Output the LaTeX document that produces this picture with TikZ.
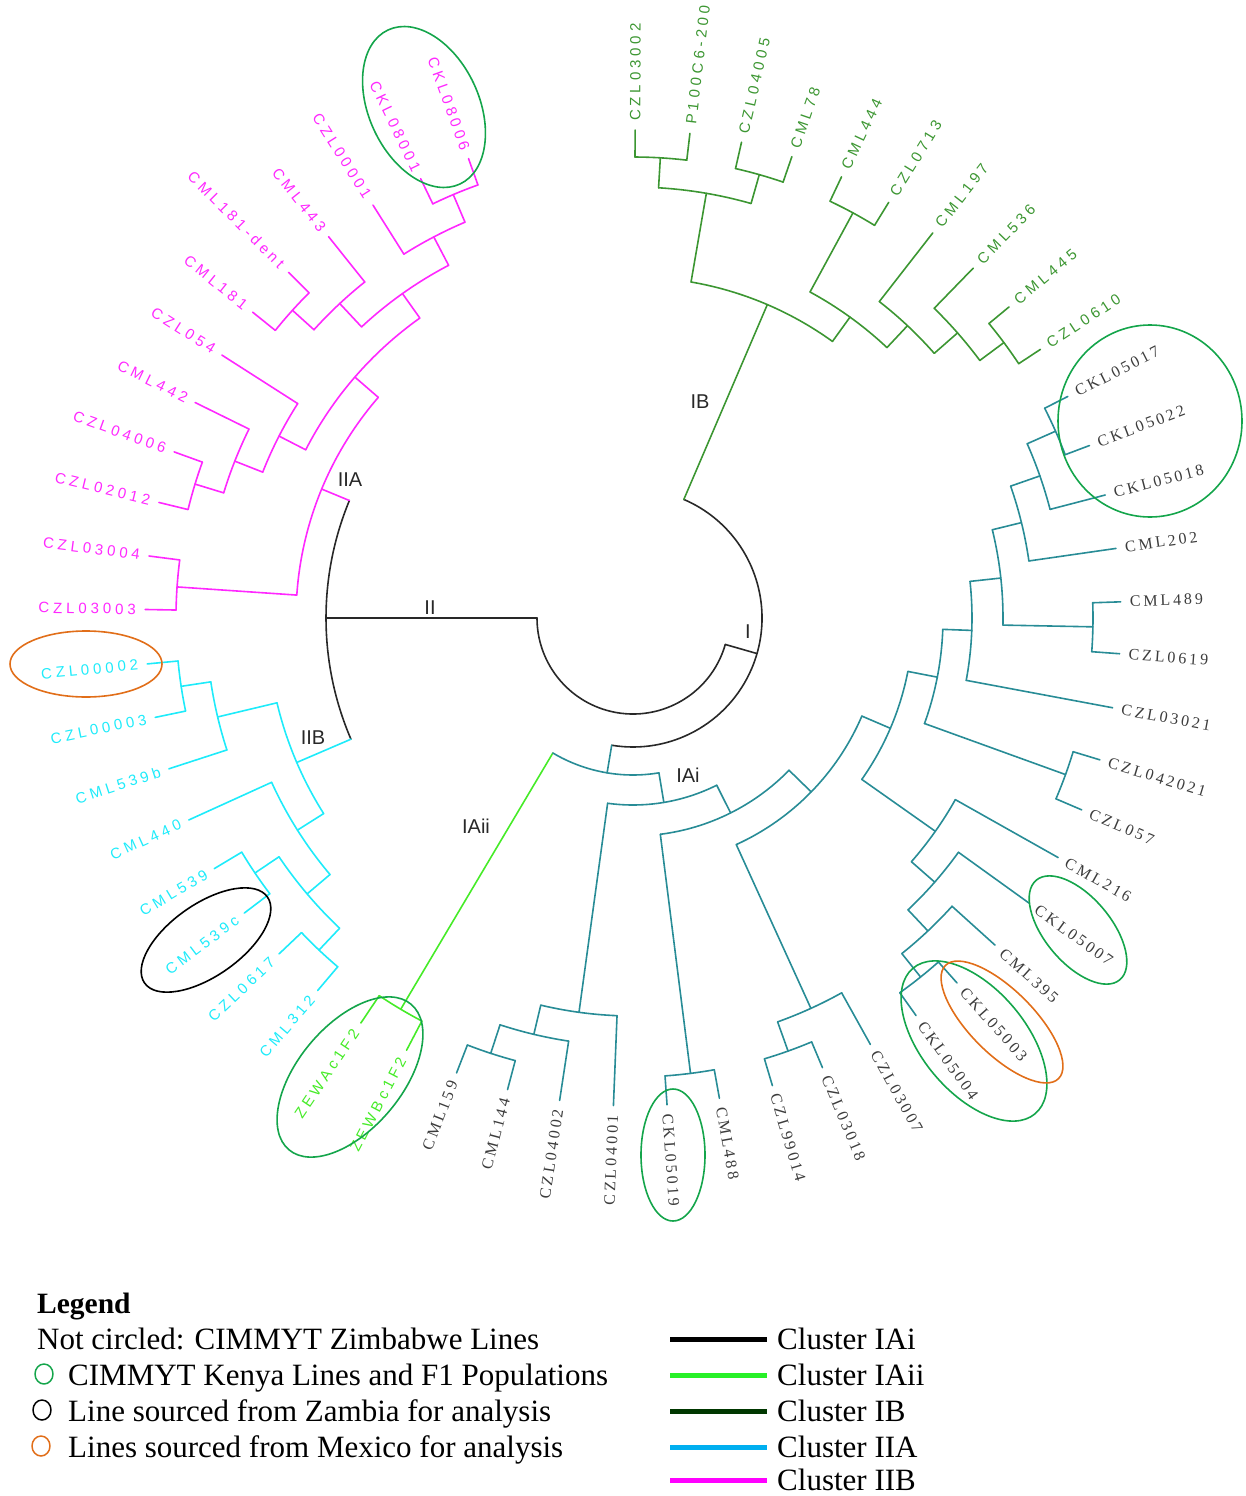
\documentclass[tikz,border=0pt]{standalone}
\usepackage{fontspec}
\setmainfont{Liberation Serif}
\newfontfamily\leafsans[LetterSpace=26]{Liberation Sans}
\newfontfamily\leafserif[LetterSpace=18]{Liberation Serif}
\newfontfamily\cladesans{Liberation Sans}

\definecolor{croot}{RGB}{40,40,40}
\definecolor{cIIA}{RGB}{255,40,255}
\definecolor{cIIB}{RGB}{30,235,250}
\definecolor{cIB}{RGB}{60,150,50}
\definecolor{cIAii}{RGB}{70,235,40}
\definecolor{cIAi}{RGB}{40,140,150}
\definecolor{cleaf}{RGB}{60,60,60}
\definecolor{ckenya}{RGB}{20,165,75}
\definecolor{cmexico}{RGB}{225,110,25}
\definecolor{legIAii}{RGB}{40,240,40}
\definecolor{legIB}{RGB}{0,55,0}
\definecolor{legIIA}{RGB}{0,175,240}
\definecolor{legIIB}{RGB}{255,0,255}

\begin{document}
\begin{tikzpicture}
[x=1pt,y=-1pt,line cap=round,line join=round,%
  branch/.style={line width=1.6pt,draw=#1},%
  leafR/.style={anchor=west,inner sep=0pt,rotate={0-(#1)}},%
  leafL/.style={anchor=east,inner sep=0pt,rotate={180-(#1)}},%
  sanslabel/.style={font=\leafsans\fontsize{15}{18}\selectfont,text=#1},%
  seriflabel/.style={font=\leafserif\fontsize{16}{19}\selectfont,text=cleaf},%
  cladelabel/.style={font=\cladesans\fontsize{20}{24}\selectfont,text=croot,inner sep=0pt},%
  ring/.style={line width=1.6pt,draw=#1},%
  legtext/.style={anchor=base west,inner sep=0pt,font=\fontsize{31}{36}\selectfont},%
  legbar/.style={line width=5pt,draw=#1,line cap=butt}]
\useasboundingbox (0,0) rectangle (1245,1496);

\begin{scope}[shift={(633,618)}]
%% root, I and II
\foreach \r/\a/\b in {96/16/180, 307/156.75/202.5, 129/-66.8/99.5}
  \draw[branch=croot] (\a:\r) arc[start angle=\a,end angle=\b,radius=\r];
\foreach \a/\r/\s in {180/96/307, 16/96/129}
  \draw[branch=croot] (\a:\r) -- (\a:\s);

%% cluster IIA
\foreach \a/\r/\s in {-157.5/307/337, -176.1/337/457, -139.1/337/368,
  -152.8/368/398, -158.5/398/428, -163.0/428/458, -125.4/368/398,
  -133.0/398/430, -137.9/430/459, -117.6/398/430, -113.0/430/460}
  \draw[branch=cIIA] (\a:\r) -- (\a:\s);
\foreach \r/\a/\b in {337/-176.1/-139.1, 457/-179.0/-172.7, 368/-152.8/-125.4,
  398/-158.5/-147.4, 428/-163.0/-153.8, 458/-166.3/-160.1, 398/-133.0/-117.6,
  430/-137.9/-128.6, 459/-141.2/-134.9, 430/-122.2/-113.0, 460/-115.8/-109.7}
  \draw[branch=cIIA] (\a:\r) arc[start angle=\a,end angle=\b,radius=\r];
\foreach \a/\r/\t in {-179.0/457/CZL03003, -172.7/457/CZL03004,
  -166.3/458/CZL02012, -160.1/458/CZL04006, -153.8/428/CML442,
  -147.4/398/CZL054, -141.2/459/CML181, -134.9/459/CML181-dent,
  -128.6/430/CML443, -122.2/430/CZL00001, -115.8/460/CKL08001,
  -109.7/460/CKL08006}
{
  \draw[branch=cIIA] (\a:\r) -- (\a:488);
  \node[leafL=\a,sanslabel=cIIA] (leaf-\t) at (\a:497) {\t};
}

%% cluster IB
\foreach \a/\r/\s in {-66.8/129/341, -80.2/341/431, -86.6/431/461,
  -74.1/431/461, -54.2/341/371, -61.5/371/461, -46.8/371/401,
  -41.3/401/432, -36.6/432/462}
  \draw[branch=cIB] (\a:\r) -- (\a:\s);
\foreach \r/\a/\b in {341/-80.2/-54.2, 431/-86.6/-74.1, 461/-89.75/-83.3,
  461/-77.15/-71.0, 371/-61.5/-46.8, 461/-64.7/-58.4, 401/-52.1/-41.3,
  432/-45.8/-36.6, 462/-39.6/-33.4}
  \draw[branch=cIB] (\a:\r) arc[start angle=\a,end angle=\b,radius=\r];
\foreach \a/\r/\t in {-89.75/461/CZL03002, -83.3/461/P100C6-200,
  -77.15/461/CZL04005, -71.0/461/CML78, -64.7/461/CML444,
  -58.4/461/CZL0713, -52.1/401/CML197, -45.8/432/CML536,
  -39.6/462/CML445, -33.4/462/CZL0610}
{
  \draw[branch=cIB] (\a:\r) -- (\a:488);
  \node[leafR=\a,sanslabel=cIB] (leaf-\t) at (\a:497) {\t};
}

%% cluster IAii
\draw[branch=cIAii] (120.7:157) -- (120.7:455);
\draw[branch=cIAii] (117.65:455) arc[start angle=117.65,end angle=123.9,radius=455];
\foreach \a/\t in {117.65/ZEWBc1F2, 123.9/ZEWAc1F2}
{
  \draw[branch=cIAii] (\a:455) -- (\a:488);
  \node[leafL=\a,sanslabel=cIAii] (leaf-\t) at (\a:497) {\t};
}

%% cluster IAi
\foreach \a/\r/\s in {99.5/129/157, 80.5/157/187, 97.8/187/398,
  103.4/398/428, 108.1/428/458, 63.4/187/218, 82.8/218/459, 44.3/218/249,
  65.5/249/429, 70.3/429/460, 23.2/249/280, 35.2/280/370, 41.2/370/401,
  46.7/401/430, 51.3/430/460, 11.0/280/310, 19.9/310/460, 2.1/310/339,
  -6.2/339/370, 1.1/370/460, -13.8/370/400, -19.25/400/431, -23.85/431/462}
  \draw[branch=cIAi] (\a:\r) -- (\a:\s);
\foreach \r/\a/\b in {157/80.5/120.7, 187/63.4/97.8, 398/92.3/103.4,
  428/98.65/108.1, 458/104.9/111.2, 218/44.3/82.8, 459/79.8/86.0,
  249/23.2/65.5, 429/60.9/70.3, 460/67.15/73.4, 280/11.0/35.2,
  370/29.4/41.2, 401/35.75/46.7, 430/42.1/51.3, 460/48.4/54.55,
  310/2.1/19.9, 460/16.9/23.15, 339/-6.2/10.6, 370/-13.8/1.1,
  460/-1.9/4.2, 400/-19.25/-8.2, 431/-23.85/-14.6, 462/-27.0/-20.7}
  \draw[branch=cIAi] (\a:\r) arc[start angle=\a,end angle=\b,radius=\r];
\foreach \a/\r/\t in {-27.0/462/CKL05017, -20.7/462/CKL05022,
  -14.6/431/CKL05018, -8.2/400/CML202, -1.9/460/CML489, 4.2/460/CZL0619,
  10.6/339/CZL03021, 16.9/460/CZL042021, 23.15/460/CZL057,
  29.4/370/CML216, 35.75/401/CKL05007, 42.1/430/CML395,
  48.4/460/CKL05003, 54.55/460/CKL05004, 60.9/429/CZL03007,
  67.15/460/CZL03018, 73.4/460/CZL99014, 79.8/459/CML488,
  86.0/459/CKL05019}
{
  \draw[branch=cIAi] (\a:\r) -- (\a:488);
  \node[leafR=\a,seriflabel] (leaf-\t) at (\a:497) {\t};
}
\foreach \a/\r/\t in {92.3/398/CZL04001, 98.65/428/CZL04002,
  104.9/458/CML144, 111.2/458/CML159}
{
  \draw[branch=cIAi] (\a:\r) -- (\a:488);
  \node[leafL=\a,seriflabel] (leaf-\t) at (\a:497) {\t};
}

%% cluster IIB
\foreach \a/\r/\s in {156.75/307/366, 166.6/366/427, 171.4/427/457,
  147.7/366/397, 139.75/397/427, 146.0/427/456, 133.4/427/457}
  \draw[branch=cIIB] (\a:\r) -- (\a:\s);
\foreach \r/\a/\b in {366/147.7/166.6, 427/162.0/171.4, 457/168.25/174.6,
  397/139.75/155.55, 427/133.4/146.0, 456/142.8/149.1, 457/130.25/136.5}
  \draw[branch=cIIB] (\a:\r) arc[start angle=\a,end angle=\b,radius=\r];
\foreach \a/\r/\t in {130.25/457/CML312, 136.5/457/CZL0617,
  142.8/456/CML539c, 149.1/456/CML539, 155.55/397/CML440,
  162.0/427/CML539b, 168.25/457/CZL00003, 174.6/457/CZL00002}
{
  \draw[branch=cIIB] (\a:\r) -- (\a:488);
  \node[leafL=\a,sanslabel=cIIB] (leaf-\t) at (\a:497) {\t};
}
\end{scope}

%% clade labels
\node[cladelabel] (lab-IIA) at (350,480) {IIA};
\node[cladelabel] (lab-II) at (430,608) {II};
\node[cladelabel] (lab-IIB) at (313,738) {IIB};
\node[cladelabel] (lab-I) at (748,632) {I};
\node[cladelabel] (lab-IB) at (700,402) {IB};
\node[cladelabel] (lab-IAi) at (688,775) {IAi};
\node[cladelabel] (lab-IAii) at (476,826) {IAii};

%% circled lines
\draw[ring=ckenya,rotate around={-65:(424,107)}] (424,107) ellipse[x radius=85,y radius=55];
\draw[ring=ckenya] (1150,421) ellipse[x radius=92,y radius=96];
\draw[ring=cmexico] (86,664) ellipse[x radius=76,y radius=33];
\draw[ring=black,rotate around={35:(206,940)}] (206,940) ellipse[x radius=75,y radius=36];
\draw[ring=ckenya,rotate around={50:(350,1077)}] (350,1077) ellipse[x radius=95,y radius=52];
\draw[ring=ckenya] (673,1155) ellipse[x radius=32,y radius=66];
\draw[ring=ckenya,rotate around={-50:(1078,930)}] (1078,930) ellipse[x radius=65,y radius=33];
\draw[ring=ckenya,rotate around={-50:(974,1041)}] (974,1041) ellipse[x radius=95,y radius=52];
\draw[ring=cmexico,rotate around={-45:(1002,1022)}] (1002,1022) ellipse[x radius=80,y radius=32];

%% legend
\node[legtext,font=\bfseries\fontsize{29.5}{34}\selectfont] (leg-title) at (37,1313) {Legend};
\node[legtext] (leg-zim) at (37,1349) {Not circled: CIMMYT Zimbabwe Lines};
\foreach \y/\c/\x/\t in {1385/ckenya/44/CIMMYT Kenya Lines and F1 Populations,
  1421/black/42/Line sourced from Zambia for analysis,
  1457/cmexico/41/Lines sourced from Mexico for analysis}
{
  \draw[ring=\c,line width=1.5pt] (\x,\y-11) ellipse[x radius=9,y radius=10];
  \node[legtext] at (68,\y) {\t};
}
\foreach \y/\c/\t in {1349/black/IAi, 1385/legIAii/IAii, 1421/legIB/IB,
  1457/legIIA/IIA, 1490/legIIB/IIB}
{
  \draw[legbar=\c] (670,\y-10) -- (767,\y-10);
  \node[legtext] (leg-\t) at (777,\y) {Cluster \t};
}
\end{tikzpicture}
\end{document}
